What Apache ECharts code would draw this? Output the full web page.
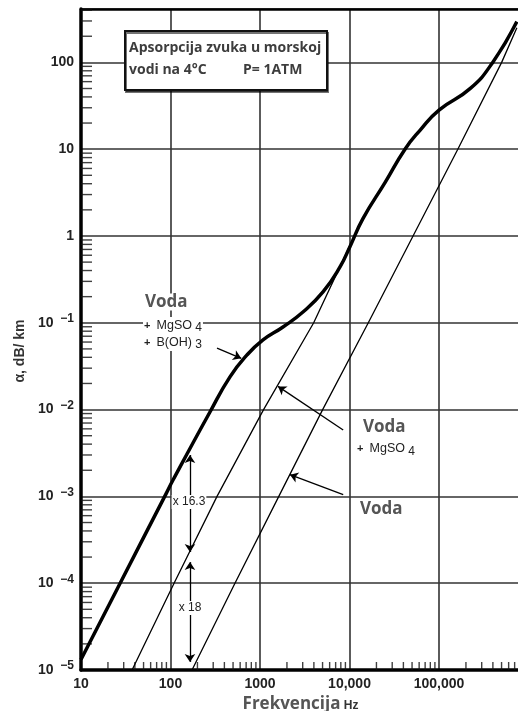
<!DOCTYPE html>
<html>
<head>
<meta charset="utf-8">
<script src="https://cdn.jsdelivr.net/npm/echarts@6/dist/echarts.min.js"></script>
<style>
  html, body { margin: 0; padding: 0; background: #fff; }
  #main { width: 518px; height: 711px; }
</style>
</head>
<body>
<div id="main"></div>
<script>
// frequency (Hz) and attenuation (dB/km)
const fullFreq = [10, 25.7, 89.1, 106.7, 276, 462, 716, 1081, 1807, 3020, 5058, 7834, 10140, 14130, 25120, 41690, 61660, 100000, 223900, 398100, 741300];
const fullAlpha = [1.32e-5, 8.81e-5, 1.07e-3, 1.545e-3, 9.38e-3, 0.0238, 0.0426, 0.0634, 0.0895, 0.133, 0.2265, 0.44, 0.759, 1.585, 4.17, 10, 16.6, 28.2, 50.1, 100, 295];

const mgFreq = [37.2, 109.6, 331, 1096, 3981, 10000];
const mgAlpha = [1e-5, 1e-4, 1e-3, 1e-2, 0.1, 0.759];

const waterFreq = [174, 525, 1622, 5012, 16220, 51290, 162200, 501200, 741300];
const waterAlpha = [1e-5, 1e-4, 1e-3, 1e-2, 0.1, 1, 10, 100, 251];

// tick labels
const xTickLabels = ['10', '100', '1000', '10,000', '100,000'];   // 10^1 .. 10^5
const xDecades = [10, 100, 1000, 10000, 100000];
const yDecades = [1e-5, 1e-4, 1e-3, 1e-2, 0.1, 1, 10, 100];
const minorSteps = [2, 3, 4, 5, 6, 7, 8, 9];

// annotation arrows [from, to] in data coords
const arrowFrom = [[331, 0.051], [8500, 0.00582], [8500, 0.00105]];
const arrowTo = [[617, 0.039], [1590, 0.0185], [2160, 0.00178]];
// the two "x 16.3" / "x 18" double arrows
const ratioF = 165;
const ratioTop = [3.0e-3, 1.75e-4];
const ratioBottom = [2.29e-4, 1.24e-5];

const X_MIN = 10, X_MAX = 803500;
const Y_MIN = 1e-5, Y_MAX = 412;

const xMinor = [];
xDecades.forEach(d => minorSteps.forEach(k => { if (d * k < X_MAX) xMinor.push([d * k, Y_MIN]); }));
const yMinor = [];
yDecades.forEach(d => minorSteps.forEach(k => { if (d * k < Y_MAX) yMinor.push([X_MIN, d * k]); }));

const pairs = (xs, ys) => xs.map((x, i) => [x, ys[i]]);

const chart = echarts.init(document.getElementById('main'), null, { renderer: 'canvas' });

const labelFont = 'Liberation Sans';
const noteFont = 'Open Sans';

const arrowData = arrowFrom.map((p, i) => [
  { coord: p, symbol: 'none' },
  { coord: arrowTo[i], symbol: 'arrow' }
]);
arrowData.push([{ coord: [ratioF, ratioTop[0]], symbol: 'arrow' }, { coord: [ratioF, ratioBottom[0]], symbol: 'arrow' }]);
arrowData.push([{ coord: [ratioF, ratioTop[1]], symbol: 'arrow' }, { coord: [ratioF, ratioBottom[1]], symbol: 'arrow' }]);

const isPow = v => Math.abs(Math.log10(v) - Math.round(Math.log10(v))) < 0.01;

const subRich = {
  p: { font: 'bold 11px "Liberation Sans"', fill: '#222', lineHeight: 17 },
  m: { font: '12.5px "Liberation Sans"', fill: '#222', lineHeight: 17 },
  n: { font: '12px "Liberation Sans"', fill: '#222', lineHeight: 17, verticalAlign: 'bottom' }
};

const option = {
  animation: false,
  backgroundColor: '#fff',
  grid: { left: 81, right: -2, top: 9, bottom: 41, containLabel: false, outerBoundsMode: 'none' },
  xAxis: [
    {
      type: 'log', logBase: 10, min: X_MIN, max: X_MAX,
      axisLine: { lineStyle: { color: '#000', width: 3.5 } },
      axisTick: { show: false },
      axisLabel: {
        margin: 7, color: '#222', fontFamily: labelFont, fontSize: 14, fontWeight: 'bold',
        formatter: v => isPow(v) ? (xTickLabels[Math.round(Math.log10(v)) - 1] || '') : ''
      },
      splitLine: { show: true, lineStyle: { color: '#333', width: 1.6 } },
      name: '{a|Frekvencija} {b|Hz}',
      nameLocation: 'middle', nameGap: 19,
      nameTextStyle: {
        rich: {
          a: { fontFamily: noteFont, fontSize: 17, fontWeight: 'bold', color: '#555' },
          b: { fontFamily: labelFont, fontSize: 12, fontWeight: 'bold', color: '#333', padding: [3, 0, 0, 0] }
        }
      }
    },
    {
      type: 'log', logBase: 10, min: X_MIN, max: X_MAX, position: 'top',
      axisLine: { lineStyle: { color: '#000', width: 2.5 } },
      axisTick: { show: false }, axisLabel: { show: false }, splitLine: { show: false }
    }
  ],
  yAxis: {
    type: 'log', logBase: 10, min: Y_MIN, max: Y_MAX,
    axisLine: { lineStyle: { color: '#000', width: 3.5 } },
    axisTick: { show: false },
    axisLabel: {
      margin: 7, color: '#222', fontFamily: labelFont, fontSize: 14, fontWeight: 'bold',
      formatter: v => {
        if (!isPow(v)) return '';
        const e = Math.round(Math.log10(v));
        if (e >= 0) return '{b|' + Math.pow(10, e) + '}';
        return '{b|10}{s|  \u2212' + (-e) + '}';
      },
      rich: {
        b: { fontFamily: labelFont, fontSize: 14, fontWeight: 'bold', color: '#222', lineHeight: 20 },
        s: { fontFamily: labelFont, fontSize: 12, fontWeight: 'bold', color: '#222', lineHeight: 12, verticalAlign: 'top' }
      }
    },
    splitLine: { show: true, lineStyle: { color: '#333', width: 1.6 } }
  },
  series: [
    {
      // minor ticks along the bottom axis
      type: 'scatter', z: 4, silent: true, clip: false,
      data: xMinor,
      symbol: 'rect', symbolSize: [1.4, 8], symbolOffset: [0, -4],
      itemStyle: { color: '#111' }
    },
    {
      // minor ticks along the left axis
      type: 'scatter', z: 4, silent: true, clip: false,
      data: yMinor,
      symbol: 'rect', symbolSize: [11, 1.4], symbolOffset: [5.5, 0],
      itemStyle: { color: '#111' }
    },
    {
      name: 'Voda + MgSO4 + B(OH)3', type: 'line', z: 5,
      data: pairs(fullFreq, fullAlpha),
      showSymbol: false, smooth: 0.5,
      lineStyle: { color: '#000', width: 3.5 }
    },
    {
      name: 'Voda + MgSO4', type: 'line', z: 5,
      data: pairs(mgFreq, mgAlpha),
      showSymbol: false,
      lineStyle: { color: '#000', width: 1.3 }
    },
    {
      name: 'Voda', type: 'line', z: 5,
      data: pairs(waterFreq, waterAlpha),
      showSymbol: false,
      lineStyle: { color: '#000', width: 1.3 }
    },
    {
      // annotation arrows
      type: 'line', data: [], silent: true,
      markLine: {
        silent: true, z: 3,
        symbolSize: 8,
        label: { show: false },
        lineStyle: { color: '#000', width: 1.3, type: 'solid' },
        data: arrowData
      }
    }
  ],
  graphic: [
    {
      type: 'rect', z: 10,
      shape: { x: 125, y: 31, width: 202, height: 59 },
      style: { fill: '#fff', stroke: '#111', lineWidth: 2, shadowColor: 'rgba(0,0,0,0.55)', shadowOffsetX: 1, shadowOffsetY: 2 }
    },
    {
      type: 'text', z: 11, x: 129, y: 48,
      style: { text: 'Apsorpcija zvuka u morskoj', font: 'bold 14px "Open Sans"', fill: '#3d3d3d', verticalAlign: 'middle' }
    },
    {
      type: 'text', z: 11, x: 129, y: 70,
      style: { text: 'vodi na 4\u00B0C', font: 'bold 14px "Open Sans"', fill: '#3d3d3d', verticalAlign: 'middle' }
    },
    {
      type: 'text', z: 11, x: 243, y: 70,
      style: { text: 'P= 1ATM', font: 'bold 14px "Open Sans"', fill: '#3d3d3d', verticalAlign: 'middle' }
    },
    {
      type: 'text', z: 11, x: 20, y: 351, rotation: Math.PI / 2,
      style: { text: '\u03B1, dB/ km', font: 'bold 14px "Liberation Sans"', fill: '#333', align: 'center', verticalAlign: 'middle' }
    },
    // curve labels
    {
      type: 'text', z: 4, x: 143, y: 302,
      style: { text: 'Voda', font: 'bold 17px "Open Sans"', fill: '#555', verticalAlign: 'middle', backgroundColor: '#fff', padding: [0, 2] }
    },
    {
      type: 'text', z: 4, x: 143, y: 334,
      style: {
        text: '{p|+  }{m|MgSO}{n| 4}\n{p|+  }{m|B(OH)}{n| 3}',
        backgroundColor: '#fff', padding: [0, 1],
        rich: subRich,
        verticalAlign: 'middle'
      }
    },
    {
      type: 'text', z: 4, x: 360, y: 427,
      style: { text: 'Voda', font: 'bold 17px "Open Sans"', fill: '#555', verticalAlign: 'middle', backgroundColor: '#fff', padding: [0, 3] }
    },
    {
      type: 'text', z: 4, x: 355, y: 449,
      style: {
        text: '{p|+  }{m|MgSO}{n| 4}',
        backgroundColor: '#fff', padding: [0, 2],
        rich: subRich,
        verticalAlign: 'middle'
      }
    },
    {
      type: 'text', z: 4, x: 357, y: 509,
      style: { text: 'Voda', font: 'bold 17px "Open Sans"', fill: '#555', verticalAlign: 'middle', backgroundColor: '#fff', padding: [1, 3] }
    },
    {
      type: 'text', z: 4, x: 189, y: 502,
      style: { text: 'x 16.3', font: '12px "Liberation Sans"', fill: '#222', align: 'center', verticalAlign: 'middle', backgroundColor: '#fff', padding: [1, 1] }
    },
    {
      type: 'text', z: 4, x: 190, y: 608,
      style: { text: 'x 18', font: '12px "Liberation Sans"', fill: '#222', align: 'center', verticalAlign: 'middle', backgroundColor: '#fff', padding: [1, 1] }
    }
  ]
};

chart.setOption(option);
</script>
</body>
</html>
